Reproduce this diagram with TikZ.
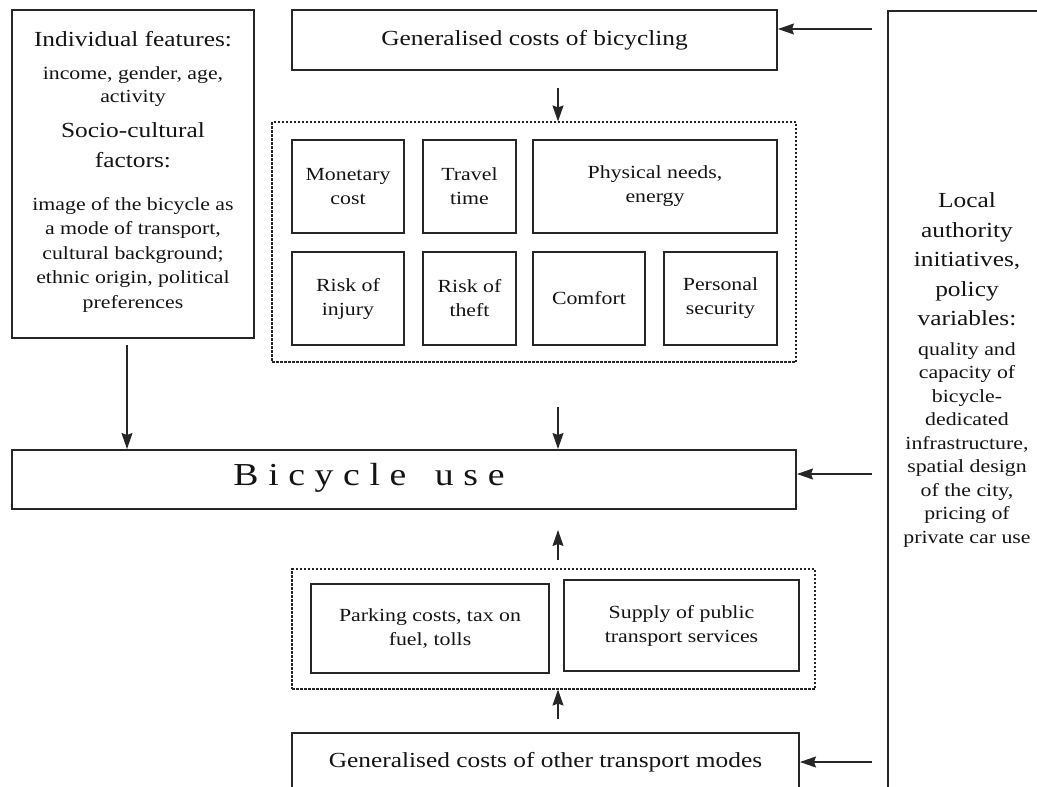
\documentclass[tikz,border=0pt]{standalone}
\usepackage{fontspec}
\setmainfont{Liberation Serif}[FakeStretch=1.18]
\newfontfamily\spacedfont{Liberation Serif}[FakeStretch=1.18,LetterSpace=30,WordSpace=1.5]
\usetikzlibrary{arrows.meta}
\definecolor{ink}{HTML}{262626}
\definecolor{txtc}{HTML}{141414}
\newcommand\lgfont{\fontsize{21.5}{29.5}\selectfont}
\newcommand\smfont{\fontsize{18.5}{24}\selectfont}
\begin{document}
\begin{tikzpicture}[x=1pt,y=-1pt,
  box/.style={draw=ink,line width=2pt,inner sep=0pt,align=center,font=\smfont,text=txtc},
  grp/.style={draw=ink,line width=1.1pt,dash pattern=on 2.5pt off 1.5pt,inner sep=0pt},
  arr/.style={draw=ink,line width=1.4pt,-{Stealth[length=16pt,width=11pt,inset=2pt]}},
  txt/.style={inner sep=0pt,align=center,text=txtc},
  lg/.style={txt,font=\lgfont},
  sm/.style={txt,font=\smfont}]
\useasboundingbox (0,0) rectangle (1037,787);
\clip (0,0) rectangle (1037,787);
\fill[white] (0,0) rectangle (1037,787);

% left box: individual and socio-cultural factors
\node[box,minimum width=242,minimum height=328] (feat) at (133,174) {};
\node[lg,anchor=base] (feat1) at (133,46) {Individual features:};
\node[sm,font=\fontsize{18.5}{23}\selectfont] (feat2) at (133,87) {income, gender, age,\\activity};
\node[lg] (feat3) at (133,145.4) {Socio-cultural\\factors:};
\node[sm,font=\fontsize{18.5}{24.5}\selectfont] (feat4) at (133,254.7) {image of the bicycle as\\a mode of transport,\\cultural background;\\ethnic origin, political\\preferences};

% generalised costs of bicycling
\node[box,font=\lgfont,minimum width=485,minimum height=60] (top) at (534.5,40) {Generalised costs of bicycling};

% group of cost components
\node[grp,minimum width=524,minimum height=240] (g1) at (534,242) {};
\node[box,minimum width=112,minimum height=93] (mon) at (348,186.5) {Monetary\\cost};
\node[box,minimum width=93,minimum height=93] (trav) at (469.5,186.5) {Travel\\time};
\node[box,minimum width=244,minimum height=93] (phys) at (655,186.5) {Physical needs,\\energy};
\node[box,minimum width=112,minimum height=93] (inj) at (348,298.5) {Risk of\\injury};
\node[box,minimum width=93,minimum height=93] (theft) at (469.5,298.5) {Risk of\\theft};
\node[box,minimum width=112,minimum height=93] (comf) at (589,298.5) {Comfort};
\node[box,minimum width=113,minimum height=93] (pers) at (720.5,298.5) {Personal\\security};

% bicycle use
\node[box,minimum width=784,minimum height=59] (bike) at (404,479.5) {};
\node[txt,font=\spacedfont\fontsize{32}{38}\selectfont,anchor=base] (bikelabel) at (369,485) {Bicycle use};

% other transport modes
\node[grp,minimum width=523,minimum height=120] (g2) at (553.5,629) {};
\node[box,minimum width=238,minimum height=89] (park) at (430,628.5) {Parking costs, tax on\\fuel, tolls};
\node[box,minimum width=235,minimum height=91] (supp) at (681.5,625.5) {Supply of public\\transport services};
\node[box,font=\lgfont,minimum width=507,minimum height=58] (other) at (545.5,762) {Generalised costs of other transport modes};

% local authority
\node[box,anchor=north west,minimum width=200,minimum height=800] (policy) at (887,10) {};
\node[lg] (pol1) at (967,259.4) {Local\\authority\\initiatives,\\policy\\variables:};
\node[sm,font=\fontsize{18.5}{23.5}\selectfont] (pol2) at (967,444.7) {quality and\\capacity of\\bicycle-\\dedicated\\infrastructure,\\spatial design\\of the city,\\pricing of\\private car use};

% connectors
\coordinate (c1) at (872,29);
\coordinate (c2) at (872,474);
\coordinate (c3) at (872,762);
\draw[arr] (c1) -- (c1 -| top.east);
\draw[arr] (c2) -- (c2 -| bike.east);
\draw[arr] (c3) -- (c3 -| other.east);
\coordinate (d1) at (558,88);
\coordinate (d2) at (558,407);
\coordinate (d3) at (127,345);
\draw[arr] (d1) -- (d1 |- g1.north);
\draw[arr] (d2) -- (d2 |- bike.north);
\draw[arr] (d3) -- (d3 |- bike.north);
\coordinate (u1) at (558,560);
\coordinate (u1e) at (558,530);
\coordinate (u2) at (558,719);
\draw[arr] (u1) -- (u1e);
\draw[arr] (u2) -- (u2 |- g2.south);
\end{tikzpicture}
\end{document}
